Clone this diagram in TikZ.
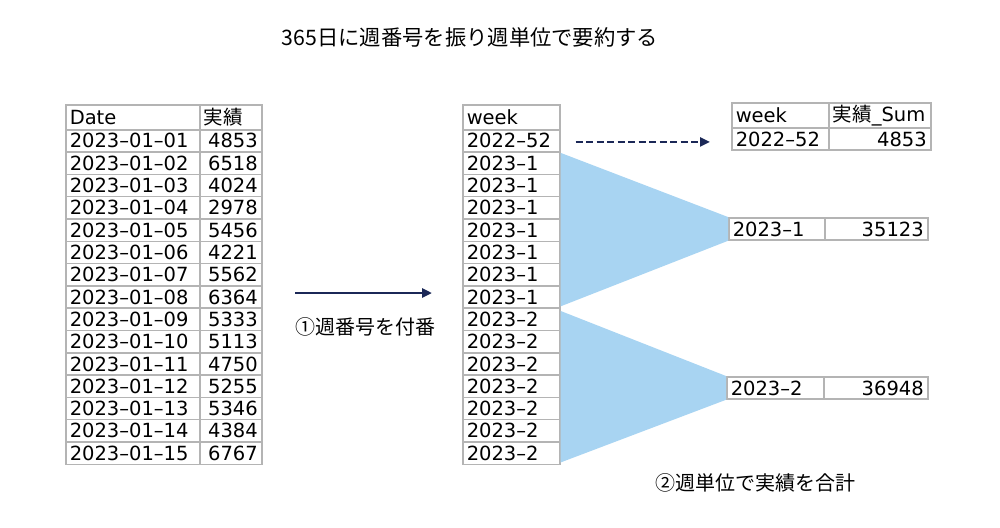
\documentclass[tikz,border=0pt]{standalone}
\usepackage{fontspec}
\setmainfont{DejaVu Sans}
\newfontfamily\cjk{Noto Sans CJK JP}
\usetikzlibrary{arrows.meta}
\definecolor{navy}{HTML}{1B2857}
\definecolor{sky}{HTML}{A8D4F2}
\definecolor{gridgray}{HTML}{B4B4B4}
\newcommand\tabfont{\fontsize{19.5}{22}\selectfont}
\newcommand\jpfont{\cjk\fontsize{20}{24}\selectfont}

\begin{document}
\begin{tikzpicture}[x=1pt, y=-1pt, >={Triangle[length=10pt,width=9pt]},
    cell/.style={draw=gridgray, line width=1.5pt, anchor=north west,
        inner xsep=4pt, inner ysep=0pt, minimum height=\rowh pt, font=\tabfont},
    lcell/.style={cell, text width=#1, align=left},
    rcell/.style={cell, text width=#1, align=right},
    head/.style={minimum height=25pt}]
    \useasboundingbox (0,0) rectangle (1000,527);
    \def\rowh{22.3}  % 1行の高さ
    \def\toprow{129} % 見出しの下端

    % --- タイトル ---
    \node[font=\cjk\fontsize{21.3}{24}\selectfont] (title) at (470,37) {365日に週番号を振り週単位で要約する};

    % --- 1. 日別の表 ---
    \node[lcell=126pt, head] (dh) at (65,104) {Date};
    \node[lcell=54pt, head] (vh) at (199,104) {\cjk 実績};
    \foreach \d/\v [count=\i from 0] in {01/4853, 02/6518, 03/4024, 04/2978,
        05/5456, 06/4221, 07/5562, 08/6364, 09/5333, 10/5113, 11/4750,
        12/5255, 13/5346, 14/4384, 15/6767} {
        \node[lcell=126pt] (d\i) at (65,{\toprow+\i*\rowh}) {2023–01–\d};
        \node[rcell=54pt] (v\i) at (199,{\toprow+\i*\rowh}) {\v};
    }

    % --- 2. 週番号の表 ---
    \node[lcell=89pt, head] (wh) at (462,104) {week};
    \foreach \w [count=\i from 0] in {2022–52, 2023–1, 2023–1, 2023–1, 2023–1,
        2023–1, 2023–1, 2023–1, 2023–2, 2023–2, 2023–2, 2023–2, 2023–2,
        2023–2, 2023–2} {
        \node[lcell=89pt] (w\i) at (462,{\toprow+\i*\rowh}) {\w};
    }

    % --- 3. 週単位の集計 ---
    \node[lcell=89pt, head] (sh) at (731,102) {week};
    \node[lcell=94pt, head] (th) at (828,102) {{\cjk 実績}\_Sum};
    \node[lcell=89pt] (s0) at (731,127) {2022–52};
    \node[rcell=94pt] (t0) at (828,127) {4853};
    \node[lcell=88pt] (s1) at (728,217) {2023–1};
    \node[rcell=95pt] (t1) at (824,217) {35123};
    \node[lcell=89pt] (s2) at (726,376) {2023–2};
    \node[rcell=96pt] (t2) at (823,376) {36948};

    % 集約を示す帯
    \fill[sky] ([yshift=-1.5pt]w1.north east) -- (s1.north west)
        -- (s1.south west) -- ([yshift=2.5pt]w7.south east) -- cycle;
    \fill[sky] ([yshift=-3.5pt]w8.north east) -- (s2.north west)
        -- (s2.south west) -- ([yshift=2.5pt]w14.south east) -- cycle;

    % --- 矢印 ---
    \coordinate (a1) at (295,293);
    \coordinate (a2) at (432,293);
    \draw[->, navy, line width=2.6pt] (a1) -- (a2);
    \draw[->, navy, line width=2.4pt, dash pattern=on 7pt off 3.5pt]
        ([shift={(15pt,-1pt)}]w0.east) -- ([shift={(-21pt,-1pt)}]w0.east -| s0.west);

    % 手順の説明
    \node[font=\jpfont] (step1) at (365,327) {①週番号を付番};
    \node[font=\jpfont] (step2) at (755,483) {②週単位で実績を合計};
\end{tikzpicture}
\end{document}
